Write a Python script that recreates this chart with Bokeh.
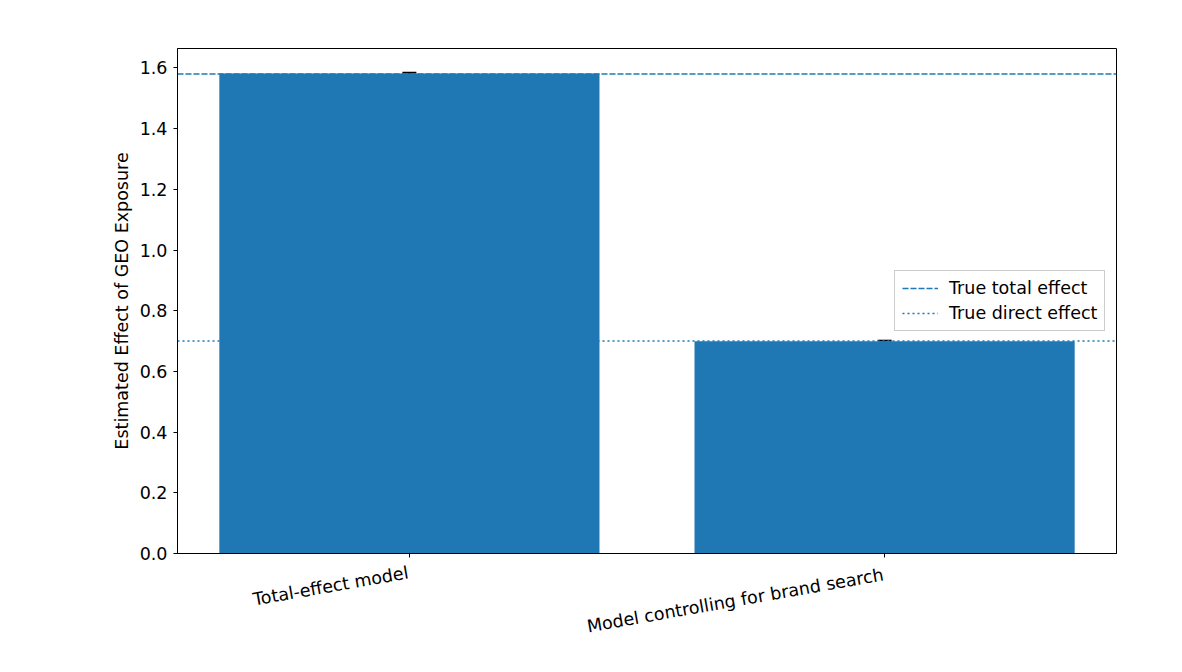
from bokeh.plotting import figure
from bokeh.models import (Range1d, FixedTicker, NumeralTickFormatter, Whisker, Label,
                          ColumnDataSource, Legend, LegendItem)
from bokeh.embed import file_html
from bokeh.resources import INLINE
import math

models = ["Total-effect model", "Model controlling for brand search"]
estimates = [1.582, 0.699]
errors = [0.003, 0.003]
true_total = 1.58
true_direct = 0.70
y_ticks = [0.0, 0.2, 0.4, 0.6, 0.8, 1.0, 1.2, 1.4, 1.6]

BLUE = "#1f77b4"
FONT = "DejaVu Sans"
FS = "17.5px"

xs = list(range(len(models)))
xr = Range1d(-0.488, 1.488)

p = figure(width=1166, height=656, output_backend="svg", toolbar_location=None,
           x_range=xr, y_range=Range1d(0, 1.664),
           min_border_left=177, min_border_right=50, min_border_top=48,
           min_border_bottom=103)
p.frame_width = 939
p.frame_height = 505

p.vbar(x=xs, top=estimates, width=0.8, color=BLUE, line_color=None)

src = ColumnDataSource(dict(x=xs, lo=[e - d for e, d in zip(estimates, errors)],
                            hi=[e + d for e, d in zip(estimates, errors)]))
w = Whisker(source=src, base="x", lower="lo", upper="hi", dimension="height",
            line_color="black", line_width=1.5)
for h in (w.upper_head, w.lower_head):
    h.size = 14
    h.line_color = "black"
    h.line_width = 1.5
p.add_layout(w)

r1 = p.line(x=[xr.start, xr.end], y=[true_total, true_total], line_color=BLUE,
            line_width=1.5, line_dash="6 2")
r2 = p.line(x=[xr.start, xr.end], y=[true_direct, true_direct], line_color=BLUE,
            line_width=1.5, line_dash="2 3")
legend = Legend(items=[LegendItem(label="True total effect", renderers=[r1]),
                       LegendItem(label="True direct effect", renderers=[r2])],
                location=(717, 222))
legend.label_text_font = FONT
legend.label_text_font_size = FS
legend.label_text_color = "black"
legend.glyph_width = 36
legend.glyph_height = 18
legend.label_height = 18
legend.label_standoff = 11
legend.spacing = 5
legend.padding = 7
legend.margin = 0
legend.border_line_color = "#cccccc"
legend.border_line_width = 1
legend.border_line_alpha = 1
legend.background_fill_alpha = 0.8
p.add_layout(legend, "center")

p.xgrid.visible = False
p.ygrid.visible = False
p.outline_line_color = "black"
p.outline_line_width = 1

p.xaxis.ticker = FixedTicker(ticks=xs)
p.xaxis.major_label_overrides = {i: "" for i in xs}
p.yaxis.ticker = FixedTicker(ticks=y_ticks)
p.yaxis.formatter = NumeralTickFormatter(format="0.0")
p.yaxis.axis_label = "Estimated Effect of GEO Exposure"

for ax in (p.xaxis[0], p.yaxis[0]):
    ax.axis_line_color = "black"
    ax.major_tick_line_color = "black"
    ax.major_tick_out = 4
    ax.major_tick_in = 0
    ax.minor_tick_line_color = None
    ax.major_label_text_font = FONT
    ax.major_label_text_font_size = FS
    ax.major_label_text_color = "black"
    ax.axis_label_text_font = FONT
    ax.axis_label_text_font_size = FS
    ax.axis_label_text_font_style = "normal"
    ax.axis_label_text_color = "black"
    ax.major_label_standoff = 6

# Each Label lives in its own stacked panel below the axis; the screen
# offsets place both texts just under the x axis, right-aligned at their ticks.
label_y = [42, 112]
for i, m in enumerate(models):
    p.add_layout(Label(x=i, y=label_y[i], x_units="data", y_units="screen",
                       x_offset=-3, text=m, angle=math.radians(10), text_align="right",
                       text_baseline="top", text_font=FONT, text_font_size=FS,
                       text_color="black"), "below")

open("out.html", "w").write(file_html(p, INLINE))
